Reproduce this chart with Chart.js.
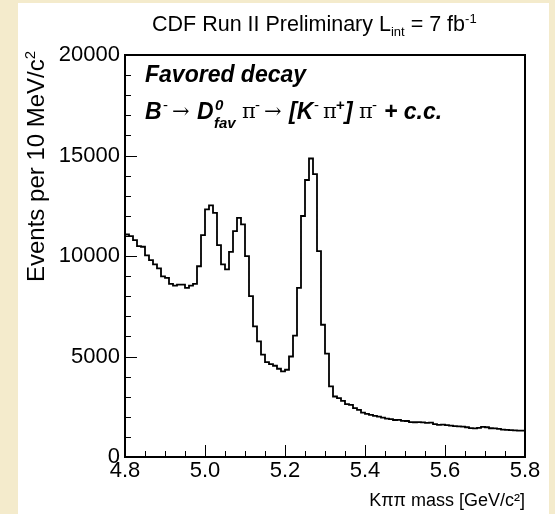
<!DOCTYPE html>
<html>
<head>
<meta charset="utf-8">
<script src="https://cdn.jsdelivr.net/npm/chart.js@4"></script>
<style>
  html, body { margin: 0; padding: 0; }
  body { width: 555px; height: 514px; position: relative; overflow: hidden;
         background: #f4ebcc; font-family: "Liberation Sans", Arial, sans-serif; }
  #panel { position: absolute; left: 18px; top: 3px; width: 531px; height: 511px; background: #fff; }
  #wrap { position: absolute; left: 0; top: 0; width: 555px; height: 514px; }
  .txt { position: absolute; white-space: nowrap; color: #000; }
  .txt sup, .txt sub { font-size: 13px; line-height: 0; }
  #title { left: 152px; top: 14px; font-size: 21.5px; line-height: 21px; }
  #fav { left: 145px; top: 63px; font-size: 23px; line-height: 23px; font-weight: bold; font-style: italic; }
  #ytitle { left: 24px; top: 282px; font-size: 24px; line-height: 24px;
            transform-origin: 0 0; transform: rotate(-90deg); }
  #ytitle sup { font-size: 15px; }
  #decay { left: 0; top: 100px; width: 555px; height: 30px; }
  #decay span { position: absolute; top: 0; line-height: 23px; }
  #decay .bi { font-size: 23px; font-weight: bold; font-style: italic; }
  #decay .sy { font-family: "DejaVu Serif", "Liberation Serif", serif; font-size: 21px; }
  #decay .up { font-size: 15px; top: -7px; }
  #decay .dn { font-size: 15px; top: 11px; font-weight: bold; font-style: italic; }
</style>
</head>
<body>
<div id="panel"></div>
<div id="wrap"><canvas id="histo" width="555" height="514"></canvas></div>
<div class="txt" id="title">CDF Run II Preliminary L<sub>int</sub> = 7 fb<sup>-1</sup></div>
<div class="txt" id="fav">Favored decay</div>
<div class="txt" id="ytitle">Events per 10 MeV/c<sup>2</sup></div>
<div class="txt" id="decay">
  <span class="bi" style="left:145px">B</span>
  <span class="up" style="left:163px">-</span>
  <span class="sy" style="left:172px">→</span>
  <span class="bi" style="left:197px">D</span>
  <span class="up bi" style="left:215px;font-size:15px">0</span>
  <span class="dn" style="left:214px">fav</span>
  <span class="sy" style="left:242px">π</span>
  <span class="up" style="left:255px">-</span>
  <span class="sy" style="left:264px">→</span>
  <span class="bi" style="left:289px">[K</span>
  <span class="up" style="left:314px">-</span>
  <span class="sy" style="left:323px">π</span>
  <span class="up" style="left:336px;font-weight:bold">+</span>
  <span class="bi" style="left:345px">]</span>
  <span class="sy" style="left:359px">π</span>
  <span class="up" style="left:372px">-</span>
  <span class="bi" style="left:384px">+ c.c.</span>
</div>
<script>
// K pi pi invariant mass, 10 MeV bins from 4.8 to 5.8 GeV/c^2
const massLow = 4.8;
const binWidth = 0.01;
const counts = [
  11360, 11070, 10990, 10790, 10490, 10460, 10030, 9790, 9580, 9380,
  8990, 8910, 8610, 8530, 8580, 8580, 8410, 8530, 8610, 9490,
  11040, 12320, 12520, 12150, 10540, 9580, 9330, 10210, 11240, 11900,
  11570, 9990, 8000, 6500, 5750, 5090, 4720, 4620, 4540, 4390,
  4260, 4340, 5000, 6040, 8410, 11990, 13780, 14850, 14070, 10240,
  6580, 5140, 3510, 3010, 2930, 2790, 2630, 2590, 2430, 2340,
  2210, 2150, 2100, 2050, 2010, 1960, 1910, 1880, 1840, 1850,
  1800, 1790, 1740, 1730, 1735, 1720, 1700, 1710, 1640, 1600,
  1610, 1590, 1560, 1540, 1520, 1510, 1480, 1440, 1420, 1450,
  1500, 1480, 1430, 1420, 1400, 1360, 1350, 1340, 1320, 1310
];
const xTicks = [4.8, 5.0, 5.2, 5.4, 5.6, 5.8];
const yTicks = [0, 5000, 10000, 15000, 20000];

const font = { family: '"Liberation Sans", Arial, sans-serif', size: 22 };

// left bin edges, plus closing point at upper edge of last bin
const points = counts.map((c, i) => ({ x: +(massLow + i * binWidth).toFixed(2), y: c }));
points.push({ x: +(massLow + counts.length * binWidth).toFixed(2), y: counts[counts.length - 1] });

// ROOT-like frame with inward ticks on left and bottom
const framePlugin = {
  id: 'frame',
  afterDatasetsDraw(chart) {
    const { ctx, chartArea: a, scales: { x, y } } = chart;
    ctx.save();
    ctx.strokeStyle = '#000';
    ctx.lineWidth = 1;
    ctx.beginPath();
    for (let v = 0; v <= 20000; v += 1000) {
      const py = Math.round(y.getPixelForValue(v)) + 0.5;
      const len = v % 5000 === 0 ? 12 : 6;
      ctx.moveTo(a.left, py);
      ctx.lineTo(a.left + len, py);
    }
    for (let k = 0; k <= 20; k++) {
      const px = Math.round(x.getPixelForValue(4.8 + k * 0.05)) + 0.5;
      const len = k % 4 === 0 ? 12 : 6;
      ctx.moveTo(px, a.bottom);
      ctx.lineTo(px, a.bottom - len);
    }
    ctx.stroke();
    ctx.lineWidth = 2;
    ctx.strokeRect(a.left, a.top, a.right - a.left, a.bottom - a.top);
    ctx.restore();
  }
};

new Chart(document.getElementById('histo'), {
  type: 'line',
  data: {
    datasets: [{
      data: points,
      stepped: 'after',
      borderColor: '#000',
      borderWidth: 1.8,
      pointRadius: 0,
      fill: false,
    }],
  },
  options: {
    responsive: false,
    animation: false,
    layout: { padding: { left: 0, right: 30, top: 55, bottom: 0 } },
    plugins: {
      legend: { display: false },
      tooltip: { enabled: false },
    },
    scales: {
      x: {
        type: 'linear',
        min: 4.8,
        max: 5.8,
        afterBuildTicks: (s) => { s.ticks = xTicks.map(v => ({ value: v })); },
        afterFit: (s) => { s.height = 57; },
        ticks: {
          autoSkip: false,
          maxRotation: 0,
          padding: 1,
          color: '#000',
          font: font,
          callback: (v) => v.toFixed(1),
        },
        grid: { display: false, drawTicks: false },
        border: { display: false },
        title: {
          display: true,
          text: 'Kππ mass [GeV/c²]',
          align: 'end',
          color: '#000',
          font: { family: font.family, size: 18 },
          padding: { top: 4, bottom: 2 },
        },
      },
      y: {
        min: 0,
        max: 20000,
        afterBuildTicks: (s) => { s.ticks = yTicks.map(v => ({ value: v })); },
        afterFit: (s) => { s.width = 125; },
        ticks: {
          padding: 5,
          color: '#000',
          font: font,
          callback: (v) => String(v),
        },
        grid: { display: false, drawTicks: false },
        border: { display: false },
      },
    },
  },
  plugins: [framePlugin],
});
</script>
</body>
</html>
